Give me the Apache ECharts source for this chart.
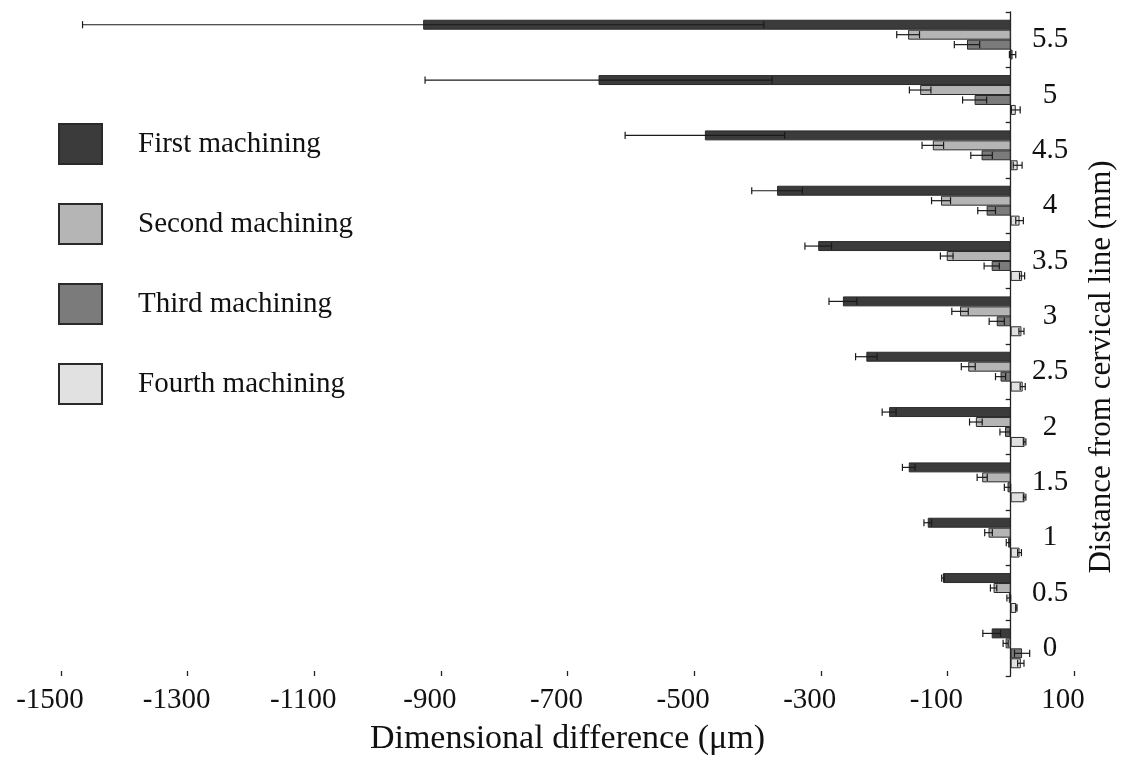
<!DOCTYPE html>
<html>
<head>
<meta charset="utf-8">
<script src="https://cdn.jsdelivr.net/npm/echarts@6/dist/echarts.min.js"></script>
<style>
html,body{margin:0;padding:0;background:#fff;}
#chart{width:1121px;height:758px;}
</style>
</head>
<body>
<div id="chart"></div>
<script>
const categories = ['0','0.5','1','1.5','2','2.5','3','3.5','4','4.5','5','5.5'];
const seriesNames = ['First machining','Second machining','Third machining','Fourth machining'];
const firstVals  = [-30, -107, -131, -161, -192, -228, -265, -304, -369, -483, -651, -928];
const firstErr   = [14, 2, 6, 10, 11, 17, 22, 21, 40, 126, 274, 538];
const secondVals = [-8, -27, -35, -45, -55, -67, -80, -101, -110, -123, -143, -162];
const secondErr  = [4, 5, 6, 8, 10, 11, 13, 10, 15, 17, 17, 18];
const thirdVals  = [18, -3, -4, -5, -9, -16, -22, -30, -38, -46, -57, -69];
const thirdErr   = [12, 3, 3, 5, 8, 8, 12, 12, 14, 17, 19, 20];
const fourthVals = [16, 9, 14, 22, 22, 19, 17, 18, 14, 11, 8, 3];
const fourthErr  = [5, 1, 3, 2, 2, 4, 4, 4, 6, 7, 7, 5];
const xTickMin = -1500, xTickMax = 100, xTickStep = 200;

const vals = [firstVals, secondVals, thirdVals, fourthVals];
const errs = [firstErr, secondErr, thirdErr, fourthErr];
const colors = ['#3b3b3b', '#b5b5b5', '#7b7b7b', '#e1e1e1'];
const CAT_GAP = 0.28;
const FONT = 'Liberation Serif';

const chart = echarts.init(document.getElementById('chart'), null, {renderer: 'canvas'});

const series = [];
for (let k = 0; k < 4; k++) {
  series.push({
    name: seriesNames[k],
    type: 'bar',
    data: vals[k],
    barGap: '0%',
    barCategoryGap: (CAT_GAP * 100) + '%',
    itemStyle: {color: colors[k], borderColor: '#2a2a2a', borderWidth: 1},
    emphasis: {disabled: true},
    animation: false
  });
}
for (let k = 0; k < 4; k++) {
  const data = categories.map((c, i) => [vals[k][i], i, errs[k][i]]);
  series.push({
    name: 'err' + k,
    type: 'custom',
    data: data,
    encode: {x: 0, y: 1},
    z: 10,
    silent: true,
    animation: false,
    renderItem: function (params, api) {
      const v = api.value(0), idx = api.value(1), e = api.value(2);
      const band = api.size([0, 1])[1];
      const bw = band * (1 - CAT_GAP) / 4;
      const c = api.coord([v, idx]);
      const y = c[1] + (k - 1.5) * bw;
      const x1 = api.coord([v - e, idx])[0];
      const x2 = api.coord([v + e, idx])[0];
      const h = bw * 0.36;
      const st = {stroke: '#1a1a1a', lineWidth: 1.2};
      return {
        type: 'group',
        children: [
          {type: 'line', shape: {x1: x1, y1: y, x2: x2, y2: y}, style: st},
          {type: 'line', shape: {x1: x1, y1: y - h, x2: x1, y2: y + h}, style: st},
          {type: 'line', shape: {x1: x2, y1: y - h, x2: x2, y2: y + h}, style: st}
        ]
      };
    }
  });
}

chart.setOption({
  animation: false,
  backgroundColor: '#fff',
  grid: {left: 61, right: 47, top: 12, bottom: 82, containLabel: false, outerBoundsMode: 'none'},
  legend: {
    data: seriesNames,
    orient: 'vertical',
    left: 53,
    top: 118,
    itemWidth: 43,
    itemHeight: 40,
    itemGap: 38,
    icon: 'rect',
    selectedMode: false,
    formatter: name => '{t|' + name + '}',
    textStyle: {
      fontFamily: FONT, fontSize: 29, color: '#111',
      rich: {t: {fontFamily: FONT, fontSize: 29, color: '#111', padding: [0, 0, 0, 31]}}
    }
  },
  xAxis: {
    type: 'value',
    min: xTickMin,
    max: xTickMax,
    interval: xTickStep,
    splitLine: {show: false},
    axisLine: {onZero: false, lineStyle: {color: '#222', width: 1.3}},
    axisTick: {show: true, inside: true, length: 5, lineStyle: {color: '#222', width: 1.3}},
    axisLabel: {fontFamily: FONT, fontSize: 29, color: '#111', margin: 10, padding: [0, 22, 0, 0], formatter: v => String(v)},
    name: 'Dimensional difference (μm)',
    nameLocation: 'middle',
    nameGap: 46,
    nameTextStyle: {fontFamily: FONT, fontSize: 34, color: '#111'}
  },
  yAxis: {
    type: 'category',
    data: categories,
    position: 'right',
    axisLine: {onZero: true, lineStyle: {color: '#222', width: 1.3}},
    axisTick: {show: true, inside: true, length: 5, lineStyle: {color: '#222', width: 1.3}},
    axisLabel: {fontFamily: FONT, fontSize: 29, color: '#111', align: 'center', margin: -24},
    splitLine: {show: false},
    name: 'Distance from cervical line (mm)',
    nameLocation: 'middle',
    nameRotate: 90,
    nameGap: 12,
    nameTextStyle: {fontFamily: FONT, fontSize: 31, color: '#111', padding: [0, 46, 0, 0]}
  },
  series: series
});
</script>
</body>
</html>
